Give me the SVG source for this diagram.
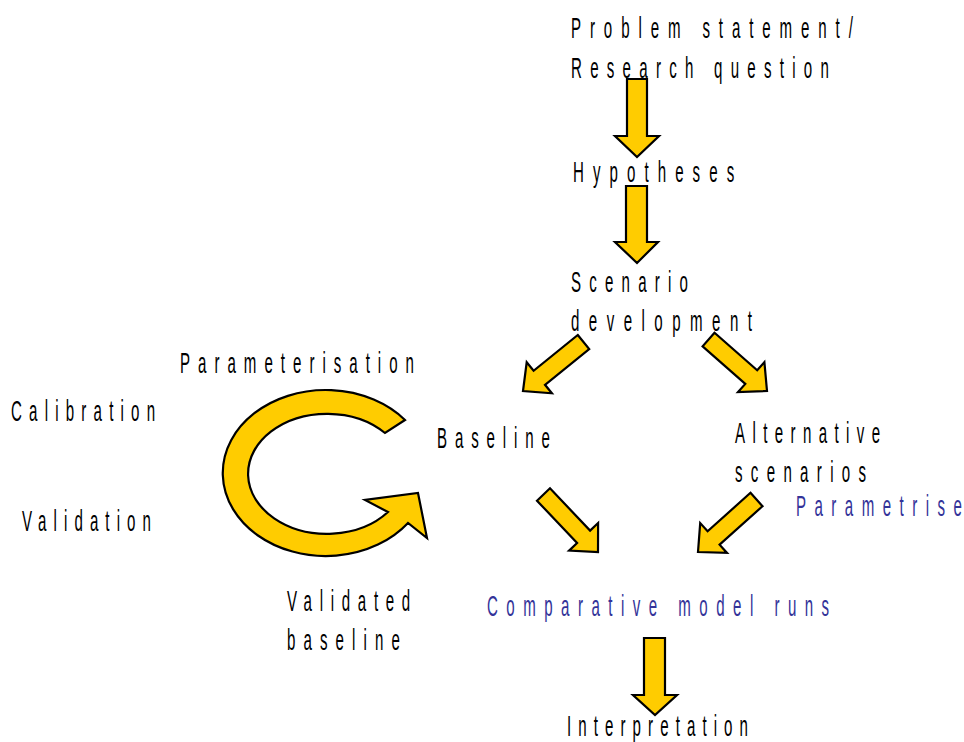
<svg xmlns="http://www.w3.org/2000/svg" width="964" height="742" viewBox="0 0 964 742">
  <style>
    .t { font-family: "Liberation Sans", Arial, sans-serif; font-size: 29px; fill: #000; }
    .b { fill: #333399; }
    .arrow { fill: #FFCC00; stroke: #000; stroke-width: 2.2; stroke-linejoin: miter; }
  </style>
  <rect width="964" height="742" fill="#fff"/>

  <!-- block arrows between steps -->
  <g id="connectors">
    <polygon class="arrow" points="627,79 647,79 647,136 659,136 637,157 615,136 627,136"/>
    <polygon class="arrow" points="626,186 647,186 647,242 658,242 637,263 615,242 626,242"/>
    <polygon class="arrow" points="577.8,335 589.2,349 545,384.8 551.9,393.3 523,391 526.7,362.3 533.6,370.8"/>
    <polygon class="arrow" points="714.5,332.7 702.6,346.3 745.3,383.9 738,392.1 767,391 764.4,362.1 757.2,370.3"/>
    <polygon class="arrow" points="550,488.3 537,500.7 577.1,543 569.1,550.6 598,552 598.1,523 590.1,530.6"/>
    <polygon class="arrow" points="750.5,492.8 762.5,506.2 719.6,544.7 727,552.9 698,552 700.2,523.1 707.6,531.3"/>
    <polygon class="arrow" points="644,638 665,638 665,695 677,695 655,715 633,695 644,695"/>
    <!-- calibration loop -->
    <path class="arrow" d="M405,420 A103,83 0 1,0 408,523 L427,538 L418,493 L365,500 L388,512 A79,60 0 1,1 385,433 Z"/>
  </g>

  <g id="problem">
    <text class="t" transform="translate(571,38) scale(0.52,1)" textLength="542">Problem statement/</text>
    <text class="t" transform="translate(571,78) scale(0.52,1)" textLength="496">Research question</text>
  </g>
  <g id="hypotheses">
    <text class="t" transform="translate(573,182) scale(0.52,1)" textLength="310">Hypotheses</text>
  </g>
  <g id="scenario">
    <text class="t" transform="translate(571,292) scale(0.52,1)" textLength="225">Scenario</text>
    <text class="t" transform="translate(571,331) scale(0.52,1)" textLength="348">development</text>
  </g>
  <g id="parameterisation">
    <text class="t" transform="translate(180,373) scale(0.52,1)" textLength="450">Parameterisation</text>
  </g>
  <g id="calibration">
    <text class="t" transform="translate(11,421) scale(0.52,1)" textLength="277">Calibration</text>
  </g>
  <g id="validation">
    <text class="t" transform="translate(22,531) scale(0.52,1)" textLength="248">Validation</text>
  </g>
  <g id="baseline">
    <text class="t" transform="translate(437,448) scale(0.52,1)" textLength="217">Baseline</text>
  </g>
  <g id="alternative">
    <text class="t" transform="translate(735,443) scale(0.52,1)" textLength="279">Alternative</text>
    <text class="t" transform="translate(735,482) scale(0.52,1)" textLength="252">scenarios</text>
  </g>
  <g id="parametrise">
    <text class="t b" transform="translate(796,516) scale(0.52,1)" textLength="319">Parametrise</text>
  </g>
  <g id="validated">
    <text class="t" transform="translate(287,611) scale(0.52,1)" textLength="237">Validated</text>
    <text class="t" transform="translate(287,650) scale(0.52,1)" textLength="217">baseline</text>
  </g>
  <g id="comparative">
    <text class="t b" transform="translate(487,616) scale(0.52,1)" textLength="658">Comparative model runs</text>
  </g>
  <g id="interpretation">
    <text class="t" transform="translate(567,736) scale(0.52,1)" textLength="348">Interpretation</text>
  </g>
</svg>
